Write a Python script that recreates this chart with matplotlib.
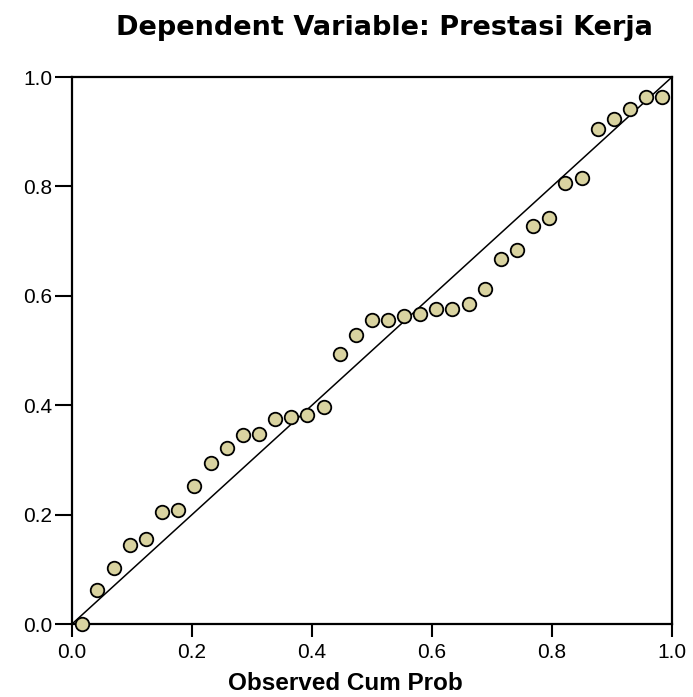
import numpy as np
import matplotlib
matplotlib.use('Agg')
import matplotlib.pyplot as plt

# observed vs expected cumulative probability
observed = [0.016, 0.042, 0.070, 0.096, 0.123, 0.150, 0.177, 0.203, 0.231, 0.258,
            0.285, 0.311, 0.338, 0.365, 0.392, 0.420, 0.446, 0.473, 0.500, 0.527,
            0.553, 0.580, 0.607, 0.634, 0.661, 0.688, 0.715, 0.742, 0.768, 0.795,
            0.822, 0.850, 0.876, 0.903, 0.930, 0.956, 0.984]
expected = [0.000, 0.062, 0.103, 0.145, 0.156, 0.205, 0.208, 0.253, 0.294, 0.321,
            0.346, 0.348, 0.375, 0.379, 0.383, 0.396, 0.493, 0.528, 0.555, 0.555,
            0.564, 0.566, 0.575, 0.576, 0.585, 0.612, 0.668, 0.684, 0.728, 0.742,
            0.806, 0.815, 0.905, 0.924, 0.941, 0.963, 0.963]
ticks = [0.0, 0.2, 0.4, 0.6, 0.8, 1.0]
tick_labels = ['0.0', '0.2', '0.4', '0.6', '0.8', '1.0']

plt.rcParams['font.family'] = ['Liberation Sans', 'DejaVu Sans']

fig = plt.figure(figsize=(6.93, 6.97), dpi=100)
ax = fig.add_axes([0.1039, 0.1047, 0.8658, 0.7848])

# reference diagonal
ax.plot([0, 1], [0, 1], color='black', lw=1.1, zorder=2)
ax.scatter(observed, expected, s=95, facecolor='#d9d3a0', edgecolor='black',
           linewidth=1.3, zorder=3, clip_on=False)

ax.set_xlim(0, 1)
ax.set_ylim(0, 1)
ax.set_xticks(ticks)
ax.set_xticklabels(tick_labels)
ax.set_yticks(ticks)
ax.set_yticklabels(tick_labels)
ax.tick_params(direction='out', width=1.5, labelsize=15)
ax.tick_params(axis='x', length=9, pad=5)
ax.tick_params(axis='y', length=12, pad=2)
for sp in ax.spines.values():
    sp.set_linewidth(1.6)

fig.text(0.555, 0.960, 'Dependent Variable: Prestasi Kerja', ha='center', va='center',
         fontsize=19.5, fontweight='bold', family='DejaVu Sans')
fig.text(0.499, 0.020, 'Observed Cum Prob', ha='center', va='center',
         fontsize=17.5, fontweight='bold')

fig.savefig('out.png', dpi=100)
